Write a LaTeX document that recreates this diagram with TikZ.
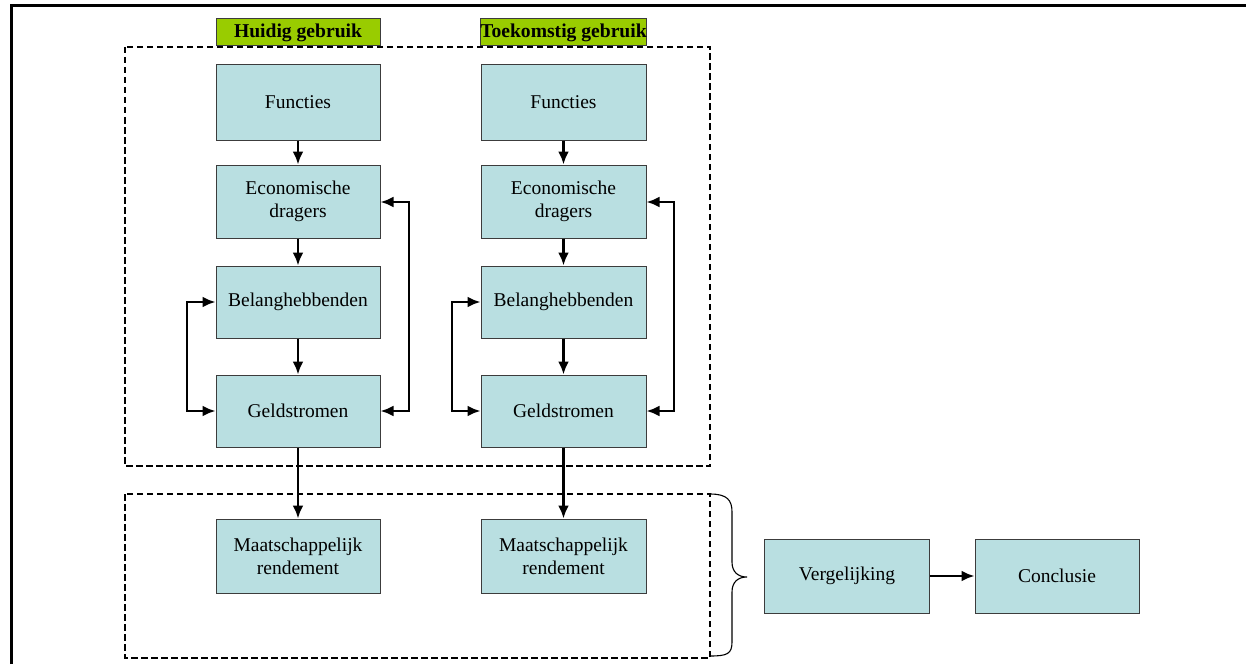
\documentclass[tikz,border=0pt]{standalone}
\usepackage{fontspec}
\setmainfont{Liberation Serif}
\usetikzlibrary{arrows.meta}
\definecolor{boxfill}{RGB}{185,223,225}
\definecolor{boxline}{RGB}{60,60,60}
\definecolor{hdrfill}{RGB}{153,204,0}
\tikzset{
  blk/.style={draw=boxline, line width=1pt, fill=boxfill, minimum width=164pt, minimum height=73pt, inner sep=0pt, align=center, font=\fontsize{19.5}{23}\selectfont},
  hdr/.style={draw=boxline, line width=1pt, fill=hdrfill, minimum height=27pt, inner sep=0pt, font=\fontsize{19.6}{22}\selectfont\bfseries},
  grp/.style={draw, line width=2.2pt, dash pattern=on 6.5pt off 3.5pt},
  arr/.style={line width=2.6pt, -{Latex[length=13pt,width=11pt]}},
  darr/.style={line width=2.6pt, {Latex[length=13pt,width=11pt]}-{Latex[length=13pt,width=11pt]}},
  frm/.style={line width=3pt}
}
\begin{document}
\begin{tikzpicture}[x=1pt,y=-1pt]
\useasboundingbox (0,0) rectangle (1246,666);
% outer frame (partially visible)
\coordinate (fbl) at (11,664);
\coordinate (ftl) at (11,6);
\coordinate (ftr) at (1246,6);
\draw[frm] (fbl) -- (ftl) -- (ftr);
% dashed group boxes
\draw[grp] (125,47) rectangle (710,466);
\draw[grp] (125,494) rectangle (710,658);
% headers
\node[hdr, minimum width=164pt] (h1) at (298,32.5) {Huidig gebruik};
\node[hdr, minimum width=165pt] (h2) at (563.5,32.5) {Toekomstig gebruik};
% column 1
\node[blk, minimum height=75pt] (f1) at (298,102.5) {Functies};
\node[blk] (e1) at (298,201.5) {Economische\\dragers};
\node[blk, minimum height=72pt] (b1) at (298,302) {Belanghebbenden};
\node[blk, minimum height=72pt] (g1) at (298,411) {Geldstromen};
\node[blk, minimum height=74pt] (m1) at (298,556) {Maatschappelijk\\rendement};
% column 2
\node[blk, minimum height=75pt, minimum width=165pt] (f2) at (563.5,102.5) {Functies};
\node[blk, minimum width=165pt] (e2) at (563.5,201.5) {Economische\\dragers};
\node[blk, minimum height=72pt, minimum width=165pt] (b2) at (563.5,302) {Belanghebbenden};
\node[blk, minimum height=72pt, minimum width=165pt] (g2) at (563.5,411) {Geldstromen};
\node[blk, minimum height=74pt, minimum width=165pt] (m2) at (563.5,556) {Maatschappelijk\\rendement};
% right side
\node[blk, minimum height=74pt, minimum width=165pt] (v) at (847,576) {Vergelijking};
\node[blk, minimum height=74pt] (c) at (1057,576) {Conclusie};
% vertical arrows
\draw[arr] (f1) -- (e1);
\draw[arr] (e1) -- (b1);
\draw[arr] (b1) -- (g1);
\draw[arr] (g1) -- (m1);
\draw[arr] (f2) -- (e2);
\draw[arr] (e2) -- (b2);
\draw[arr] (b2) -- (g2);
\draw[arr] (g2) -- (m2);
% loops column 1
\draw[darr] (e1.east |- 0,202) -- (409,202) -- (409,411) -- (g1.east);
\draw[darr] (b1.west) -- (187,302) -- (187,411) -- (g1.west);
% loops column 2
\draw[darr] (e2.east |- 0,202) -- (674,202) -- (674,411) -- (g2.east);
\draw[darr] (b2.west) -- (452,302) -- (452,411) -- (g2.west);
% brace
\coordinate (bt) at (710,494);
\coordinate (bb) at (710,656);
\coordinate (btip) at (747,577);
\draw[line width=1.1pt] (bt) .. controls (727,494) and (732,500) .. (732,512) -- (732,562)
  .. controls (732,572) and (738,577) .. (btip)
  .. controls (738,577) and (732,582) .. (732,592) -- (732,642)
  .. controls (732,654) and (727,656) .. (bb);
% final arrow
\draw[arr] (v) -- (c);
\end{tikzpicture}
\end{document}
